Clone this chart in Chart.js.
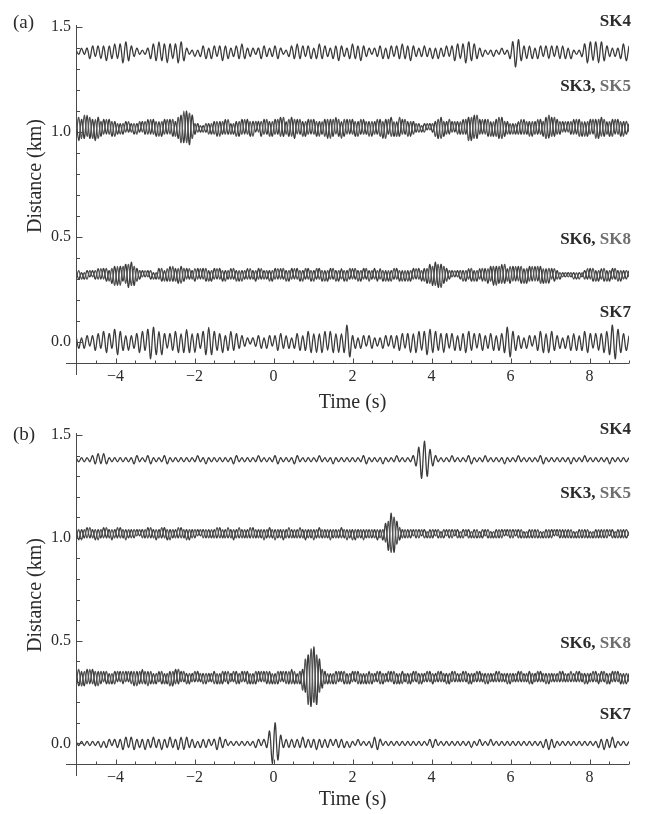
<!DOCTYPE html>
<html>
<head>
<meta charset="utf-8">
<title>Distance vs time</title>
<script src="https://cdn.jsdelivr.net/npm/chart.js@4.4.1/dist/chart.umd.min.js"></script>
<style>
  body { margin: 0; background: #fff; }
  #page { position: relative; width: 646px; height: 814px; overflow: hidden; font-family: "Liberation Serif", "Times New Roman", serif; color: #2b2b2b; }
  canvas { position: absolute; left: 0; }
  #chartA { top: 0; }
  #chartB { top: 400px; }
  .tag { position: absolute; left: 13px; font-size: 19px; line-height: 1; }
</style>
</head>
<body>
<div id="page">
  <canvas id="chartA" width="646" height="415"></canvas>
  <canvas id="chartB" width="646" height="414"></canvas>
  <div class="tag" style="top:12px">(a)</div>
  <div class="tag" style="top:424px">(b)</div>
</div>
<script>
// sample grid of the traces (s)
const tStart = -5;
const tStep = 0.07;

const xTicks = [-4, -2, 0, 2, 4, 6, 8];
const yTicks = [0.0, 0.5, 1.0, 1.5];

// trace baselines (km)
const baseSK4 = 1.38;
const baseSK35 = 1.02;
const baseSK68 = 0.32;
const baseSK7 = 0.0;

// trace amplitudes, units of 0.01 km
// (a)
const sk4A = [
  1,-1,2,-1,2,-3,3,-2,3,-3, 3,-4,3,-3,4,-3,4,-5,5,-4,
  3,-2,2,-1,1,-1,2,-3,4,-4, 5,-4,4,-5,4,-3,4,-5,5,-4,
  2,-1,1,-2,1,-2,3,-3,2,-3, 3,-2,3,-4,3,-3,2,-2,3,-3,
  4,-3,2,-2,2,-1,2,-3,3,-2, 2,-2,3,-3,2,-1,1,-2,3,-3,
  4,-3,3,-2,3,-3,2,-3,4,-3, 3,-2,2,-3,3,-4,3,-2,2,-3,
  4,-3,3,-4,3,-2,2,-1,2,-2, 3,-3,2,-3,3,-2,3,-3,4,-3,
  3,-4,3,-2,2,-2,3,-2,2,-3, 2,-3,2,-2,3,-2,3,-4,4,-3,
  4,-5,5,-4,4,-3,2,-2,1,-1, 1,-2,1,-1,2,-1,1,-3,5,-7,
  6,-4,3,-3,3,-3,2,-3,3,-2, 3,-3,3,-2,3,-3,3,-3,2,-3,
  1,-1,1,-2,4,-5,5,-4,5,-5, 5,-4,3,-2,2,-2,2,-3,4,-4,
  3
];
const sk3A = [
  5,-6,4,-5,6,-5,4,-6,5,-4, 4,-3,4,-4,3,-3,2,-3,3,-2,
  2,-3,2,-2,3,-3,4,-3,4,-4, 3,-4,4,-3,4,-4,3,-5,6,-7,
  8,-8,6,-3,2,-2,1,-2,2,-3, 3,-4,3,-3,4,-3,2,-3,3,-4,
  4,-3,4,-4,3,-2,3,-4,4,-3, 3,-4,4,-3,5,-4,3,-4,5,-5,
  4,-3,3,-4,4,-3,4,-4,3,-3, 4,-5,4,-4,5,-4,3,-4,4,-3,
  4,-4,3,-3,4,-3,3,-4,3,-3, 4,-5,4,-3,5,-4,3,-4,4,-3,
  3,-4,3,-2,2,-2,2,-1,2,-2, 3,-5,5,-4,3,-3,3,-2,3,-3,
  4,-3,5,-6,6,-5,4,-3,4,-4, 3,-4,4,-5,5,-4,3,-3,2,-3,
  3,-3,4,-3,3,-4,3,-3,4,-4, 5,-5,5,-4,4,-3,3,-2,3,-3,
  4,-3,4,-4,3,-4,4,-3,4,-5, 5,-4,3,-4,4,-3,4,-4,3,-3,
  2
];
const sk5A = [
  -4,5,-5,6,-4,5,-5,4,-5,3, -3,4,-3,3,-4,2,-3,2,-2,3,
  -2,2,-3,3,-2,3,-3,4,-3,3, -4,3,-3,4,-3,4,-4,5,-7,8,
  -7,7,-5,2,-2,1,-2,2,-3,2, -3,3,-4,3,-3,4,-3,2,-4,3,
  -3,4,-3,3,-4,3,-2,3,-3,4, -4,3,-3,4,-4,5,-3,4,-4,4,
  -3,4,-4,3,-3,4,-3,3,-4,3, -4,4,-5,4,-3,4,-5,4,-3,4,
  -3,3,-4,4,-3,3,-4,3,-3,4, -4,3,-5,4,-4,3,-4,5,-3,4,
  -4,3,-3,2,-2,1,-2,2,-1,2, -4,4,-5,3,-3,4,-2,3,-3,3,
  -3,4,-6,5,-5,6,-3,4,-3,4, -4,3,-4,5,-5,3,-3,2,-3,2,
  -3,4,-3,3,-4,3,-3,4,-3,3, -5,6,-4,5,-3,3,-2,3,-2,3,
  -3,4,-4,3,-4,3,-3,4,-5,4, -4,4,-3,3,-4,4,-3,3,-4,3,
  -2
];
const sk6A = [
  2,-2,1,-2,2,-1,2,-2,3,-2, 3,-3,2,-4,4,-5,4,-3,5,-6,
  6,-5,3,-2,2,-1,2,-2,1,-2, 3,-3,2,-3,4,-3,3,-4,4,-3,
  3,-2,2,-3,3,-2,3,-3,2,-3, 3,-2,3,-3,2,-2,3,-2,2,-3,
  2,-2,3,-2,2,-3,3,-2,2,-2, 2,-3,3,-2,3,-2,2,-3,3,-2,
  3,-3,2,-2,3,-3,2,-2,3,-3, 2,-3,3,-2,2,-3,3,-3,2,-2,
  3,-2,2,-3,3,-2,2,-2,3,-3, 3,-3,2,-3,2,-2,3,-3,2,-3,
  2,-3,3,-2,3,-3,3,-4,5,-5, 6,-6,5,-4,3,-2,2,-1,2,-2,
  2,-3,3,-3,2,-3,3,-3,3,-4, 4,-5,4,-4,5,-4,3,-4,4,-3,
  4,-4,3,-4,4,-3,4,-3,4,-4, 3,-4,3,-3,2,-2,1,-1,1,-1,
  1,-2,1,-1,2,-2,3,-3,2,-3, 3,-3,2,-3,3,-2,2,-3,2,-2,
  2
];
const sk8A = [
  -2,2,-2,1,-2,2,-1,2,-2,3, -2,3,-3,3,-5,4,-5,4,-4,5,
  -5,4,-3,2,-1,2,-1,2,-2,1, -2,3,-3,3,-3,4,-3,3,-4,3,
  -2,3,-2,3,-2,3,-2,3,-3,2, -2,3,-2,2,-3,2,-2,3,-3,2,
  -3,2,-2,3,-2,2,-2,3,-2,2, -3,2,-2,3,-2,3,-3,2,-2,3,
  -2,2,-3,3,-2,2,-3,3,-2,2, -3,2,-2,3,-3,2,-2,2,-3,3,
  -2,3,-3,2,-2,3,-3,2,-2,2, -2,2,-3,2,-3,3,-2,2,-3,2,
  -3,2,-2,3,-2,2,-3,3,-4,4, -5,5,-6,4,-3,2,-1,2,-1,2,
  -3,2,-2,3,-3,2,-2,3,-3,3, -3,4,-5,4,-4,5,-3,4,-3,4,
  -3,4,-4,3,-3,4,-3,4,-4,3, -4,3,-2,3,-2,1,-1,1,-1,1,
  -2,1,-2,1,-2,3,-2,3,-3,2, -2,3,-3,2,-2,3,-3,2,-2,2,
  -1
];
const sk7A = [
  3,-3,2,-3,3,-2,3,-4,4,-3, 5,-5,4,-3,6,-6,5,-4,3,-4,
  3,-3,4,-5,5,-4,6,-8,7,-6, 5,-6,4,-3,4,-4,5,-5,4,-5,
  6,-5,4,-5,4,-3,5,-6,7,-6, 5,-4,4,-5,3,-4,5,-4,4,-3,
  3,-2,2,-1,2,-2,3,-3,2,-3, 3,-2,3,-4,4,-3,3,-3,2,-3,
  4,-4,3,-4,5,-5,4,-5,4,-5, 5,-4,5,-5,4,-5,4,-5,8,-7,
  3,-3,2,-3,3,-2,3,-3,2,-2, 2,-3,3,-2,3,-3,3,-4,4,-3,
  4,-5,4,-5,5,-4,5,-6,6,-5, 5,-4,4,-5,4,-3,4,-4,3,-4,
  4,-5,5,-4,4,-3,4,-4,3,-3, 4,-4,3,-4,4,-5,7,-7,5,-4,
  3,-3,2,-3,3,-2,3,-4,5,-5, 4,-5,5,-4,3,-3,2,-3,3,-4,
  4,-4,3,-4,5,-5,4,-3,4,-4, 4,-5,5,-6,8,-8,6,-5,4,-4,
  3
];

// (b)
const sk4B = [
  1,-1,1,-1,1,-1,2,-2,3,-2, 3,-2,1,-1,1,-1,1,-1,1,-1,
  1,-2,2,-1,1,-1,2,-2,1,-1, 1,-1,2,-2,1,-1,1,-1,1,-1,
  1,-1,1,-1,2,-1,1,-2,1,-1, 1,-1,1,-1,1,-1,1,-2,2,-1,
  1,-1,1,-1,1,-1,2,-1,1,-1, 1,-1,2,-2,1,-1,1,-1,1,-2,
  2,-1,1,-1,1,-1,1,-1,2,-1, 1,-1,1,-2,1,-1,1,-1,1,-1,
  1,-1,1,-1,2,-2,1,-1,1,-1, 1,-2,1,-1,1,-1,2,-1,1,-1,
  1,-1,2,-3,6,-9,9,-8,5,-3, 2,-1,1,-1,1,-1,2,-1,1,-1,
  1,-1,2,-2,1,-1,1,-1,2,-1, 1,-1,1,-1,1,-2,1,-1,1,-1,
  2,-1,1,-1,1,-1,1,-1,2,-2, 1,-1,1,-1,1,-1,1,-1,1,-2,
  1,-1,1,-1,2,-1,1,-1,1,-1, 1,-1,1,-2,1,-1,1,-1,1,-1,
  1
];
const sk3B = [
  2,-3,2,-2,3,-2,2,-3,2,-2, 3,-2,2,-3,2,-2,3,-2,2,-2,
  2,-2,2,-1,2,-2,3,-2,2,-3, 2,-2,3,-3,2,-2,2,-2,3,-2,
  2,-3,2,-2,2,-1,2,-2,2,-2, 2,-2,3,-2,2,-2,2,-3,2,-2,
  2,-2,2,-2,3,-2,2,-2,2,-2, 3,-2,2,-2,2,-3,2,-2,2,-2,
  2,-2,2,-3,2,-2,2,-2,3,-2, 2,-2,2,-2,2,-2,3,-2,2,-2,
  2,-3,2,-2,2,-2,2,-2,2,-3, 2,-3,5,-8,10,-9,6,-3,2,-2,
  2,-2,2,-2,2,-1,2,-2,2,-2, 2,-2,1,-2,2,-2,2,-1,2,-2,
  2,-1,2,-2,2,-2,1,-2,2,-2, 1,-2,2,-2,2,-1,2,-2,2,-1,
  2,-2,1,-2,2,-2,2,-2,1,-2, 2,-2,2,-1,2,-2,2,-2,2,-2,
  1,-2,2,-2,2,-2,1,-2,2,-2, 2,-2,2,-1,2,-2,2,-2,2,-2,
  1
];
const sk5B = [
  -2,2,-3,2,-2,3,-2,2,-3,2, -2,3,-2,2,-2,3,-2,2,-3,2,
  -2,2,-1,2,-2,2,-2,3,-2,2, -2,3,-2,2,-3,2,-2,3,-2,2,
  -3,2,-2,2,-1,2,-2,2,-2,2, -2,3,-2,2,-2,3,-2,2,-2,3,
  -2,2,-2,3,-2,2,-2,2,-3,2, -2,2,-3,2,-2,2,-2,3,-2,2,
  -2,3,-2,2,-2,2,-3,2,-2,2, -2,2,-3,2,-2,2,-2,2,-3,2,
  -3,2,-2,2,-3,2,-2,2,-2,2, -2,2,-4,6,-9,8,-5,3,-2,2,
  -2,2,-1,2,-2,2,-2,1,-2,2, -1,2,-2,2,-1,2,-2,2,-2,1,
  -2,2,-2,1,-2,2,-2,2,-1,2, -2,1,-2,2,-2,2,-1,2,-2,2,
  -2,2,-2,1,-2,2,-2,2,-2,1, -2,2,-2,2,-1,2,-2,2,-2,2,
  -2,1,-2,2,-2,2,-2,1,-2,2, -2,2,-2,2,-2,1,-2,2,-2,2,
  -1
];
const sk6B = [
  4,-4,3,-4,4,-3,4,-4,3,-3, 3,-3,2,-3,3,-2,3,-3,3,-2,
  3,-4,3,-3,4,-3,3,-3,2,-3, 3,-3,2,-3,3,-4,4,-3,3,-2,
  2,-3,2,-2,3,-2,2,-3,2,-2, 3,-3,2,-3,3,-3,2,-2,3,-3,
  3,-2,3,-3,2,-3,3,-2,3,-3, 3,-3,2,-3,3,-2,3,-3,4,-3,
  2,-3,4,-7,11,-14,15,-13,9,-5, 3,-3,2,-3,3,-2,3,-3,2,-3,
  3,-2,3,-3,2,-3,3,-3,2,-2, 3,-3,2,-2,3,-3,2,-3,3,-2,
  2,-3,3,-2,2,-3,2,-2,3,-3, 2,-2,3,-2,2,-3,3,-2,2,-2,
  3,-2,2,-3,2,-2,3,-2,2,-3, 2,-2,3,-2,2,-2,2,-3,2,-2,
  3,-2,2,-2,3,-3,2,-2,3,-2, 2,-3,2,-2,2,-2,3,-2,2,-2,
  2,-2,3,-2,2,-3,2,-2,3,-3, 3,-2,2,-3,3,-2,3,-3,2,-3,
  2
];
const sk8B = [
  -3,4,-4,3,-3,4,-3,3,-4,3, -2,3,-3,2,-3,3,-2,3,-2,3,
  -3,3,-4,3,-3,3,-4,3,-3,2, -2,3,-3,2,-4,3,-3,4,-2,3,
  -3,2,-2,3,-2,2,-3,2,-2,2, -3,2,-3,3,-2,3,-2,3,-3,2,
  -2,3,-3,2,-3,3,-2,3,-2,3, -3,2,-3,3,-2,3,-3,3,-3,3,
  -3,3,-6,9,-13,14,-12,11,-7,4, -3,2,-3,2,-3,3,-2,3,-3,2,
  -2,3,-3,2,-3,2,-3,2,-2,3, -3,2,-2,3,-2,3,-3,2,-3,2,
  -3,2,-2,3,-3,2,-2,3,-2,2, -2,3,-2,2,-3,2,-2,3,-2,2,
  -2,3,-3,2,-2,3,-2,2,-3,2, -2,2,-2,3,-2,2,-3,2,-2,2,
  -2,3,-2,2,-3,2,-2,3,-2,2, -3,2,-2,2,-2,3,-2,2,-2,3,
  -2,3,-2,2,-3,2,-2,3,-2,2, -2,3,-3,2,-2,3,-2,2,-3,2,
  -2
];
const sk7B = [
  1,-1,1,-1,1,-1,1,-1,1,-2, 1,-2,2,-1,2,-2,2,-3,3,-2,
  3,-3,2,-2,2,-3,2,-2,3,-2, 2,-3,2,-2,3,-2,2,-3,3,-3,
  3,-2,2,-2,1,-2,2,-2,2,-1, 2,-3,3,-2,2,-1,1,-1,1,-1,
  1,-1,1,-1,1,-2,2,-1,2,-2, 6,-10,10,-8,4,-2,2,-2,2,-2,
  2,-2,3,-2,2,-2,2,-3,2,-2, 2,-2,2,-1,2,-2,2,-2,1,-2,
  1,-1,2,-1,1,-1,1,-2,3,-3, 2,-1,1,-1,1,-1,1,-1,1,-1,
  1,-1,1,-1,1,-1,1,-1,2,-2, 2,-1,1,-1,1,-1,1,-1,1,-1,
  1,-1,1,-2,1,-1,2,-1,1,-1, 2,-1,1,-1,1,-1,1,-1,1,-1,
  1,-1,1,-1,1,-1,1,-1,1,-2, 2,-3,2,-2,1,-1,1,-1,1,-1,
  1,-1,1,-1,1,-1,1,-1,1,-2, 2,-3,2,-2,3,-2,1,-1,1,-1,
  1
];

const traceDark = '#3a3a3a';
const traceGrey = '#555555';
const textDark = '#2b2b2b';
const textGrey = '#6e6e6e';

Chart.defaults.font.family = '"Liberation Serif", "Times New Roman", serif';
Chart.defaults.color = textDark;

// Mathematica-like axes: inward ticks, crossing axis lines, trace labels
const frame = {
  id: 'frame',
  afterDraw(chart, args, opts) {
    const { ctx, chartArea: a, scales: { x, y } } = chart;
    const x0 = Math.round(a.left) + 0.5;
    const y0 = Math.round(a.bottom) + 0.5;
    ctx.save();
    ctx.strokeStyle = '#4a4a4a';
    ctx.lineWidth = 1;
    ctx.beginPath();
    ctx.moveTo(x0, a.top);
    ctx.lineTo(x0, a.bottom + 12);
    ctx.moveTo(a.left - 10, y0);
    ctx.lineTo(a.right, y0);
    for (let k = -9; k <= 18; k++) {
      const px = Math.round(x.getPixelForValue(k / 2)) + 0.5;
      const len = k % 4 === 0 ? 5 : 3;
      ctx.moveTo(px, y0);
      ctx.lineTo(px, y0 - len);
    }
    for (let k = 0; k <= 15; k++) {
      const py = Math.round(y.getPixelForValue(k / 10)) + 0.5;
      const len = k % 5 === 0 ? 6 : 3.5;
      ctx.moveTo(x0, py);
      ctx.lineTo(x0 + len, py);
    }
    ctx.stroke();

    // y axis title
    ctx.save();
    ctx.translate(opts.yTitle.x, opts.yTitle.y);
    ctx.rotate(-Math.PI / 2);
    ctx.font = '20px "Liberation Serif", serif';
    ctx.fillStyle = textDark;
    ctx.textAlign = 'center';
    ctx.textBaseline = 'middle';
    ctx.fillText('Distance (km)', 0, 0);
    ctx.restore();

    // trace names, right aligned at the end of the axis
    ctx.font = 'bold 17px "Liberation Serif", serif';
    ctx.textBaseline = 'middle';
    ctx.textAlign = 'left';
    opts.names.forEach(n => {
      const total = n.parts.reduce((s, p) => s + ctx.measureText(p[0]).width, 0);
      let px = a.right + 2 - total;
      const py = y.getPixelForValue(n.y);
      n.parts.forEach(p => {
        ctx.fillStyle = p[1];
        ctx.fillText(p[0], px, py);
        px += ctx.measureText(p[0]).width;
      });
    });
    ctx.restore();
  }
};

function trace(values, base, color) {
  return {
    data: values.map((v, i) => ({ x: tStart + i * tStep, y: base + v / 100 })),
    borderColor: color,
    borderWidth: 1.3,
    pointRadius: 0,
    tension: 0.35,
    fill: false
  };
}

const names = [
  { parts: [['SK4', textDark]], y: 1.525 },
  { parts: [['SK3, ', textDark], ['SK5', textGrey]], y: 1.215 },
  { parts: [['SK6, ', textDark], ['SK8', textGrey]], y: 0.487 },
  { parts: [['SK7', textDark]], y: 0.138 }
];

function buildChart(id, datasets, lay) {
  return new Chart(document.getElementById(id), {
    type: 'line',
    data: { datasets: datasets },
    options: {
      responsive: false,
      animation: false,
      devicePixelRatio: 1,
      layout: { padding: { left: 0, right: 17, top: lay.top, bottom: 0 } },
      plugins: {
        legend: { display: false },
        tooltip: { enabled: false },
        frame: { yTitle: lay.yTitle, names: names }
      },
      scales: {
        x: {
          type: 'linear',
          min: -5,
          max: 9,
          afterBuildTicks: s => { s.ticks = xTicks.map(v => ({ value: v })); },
          afterFit: s => { s.height = lay.xHeight; },
          grid: { display: false, drawTicks: false },
          border: { display: false },
          ticks: {
            font: { size: 16 },
            padding: 4,
            maxRotation: 0,
            autoSkip: false,
            callback: v => v < 0 ? '\u2212' + Math.abs(v) : String(v)
          },
          title: { display: true, text: 'Time (s)', font: { size: 20 }, padding: { top: 0, bottom: lay.titlePad } }
        },
        y: {
          type: 'linear',
          min: -0.1,
          max: 1.51,
          afterBuildTicks: s => { s.ticks = yTicks.map(v => ({ value: v })); },
          afterFit: s => { s.width = 76; },
          grid: { display: false, drawTicks: false },
          border: { display: false },
          ticks: { font: { size: 16 }, padding: 5, callback: v => Number(v).toFixed(1) }
        }
      }
    },
    plugins: [frame]
  });
}

buildChart('chartA', [
  trace(sk4A, baseSK4, traceDark),
  trace(sk5A, baseSK35, traceGrey),
  trace(sk3A, baseSK35, traceDark),
  trace(sk8A, baseSK68, traceGrey),
  trace(sk6A, baseSK68, traceDark),
  trace(sk7A, baseSK7, traceDark)
], { top: 25, xHeight: 52, titlePad: 0, yTitle: { x: 36, y: 176 } });

buildChart('chartB', [
  trace(sk4B, baseSK4, traceDark),
  trace(sk5B, baseSK35, traceGrey),
  trace(sk3B, baseSK35, traceDark),
  trace(sk8B, baseSK68, traceGrey),
  trace(sk6B, baseSK68, traceDark),
  trace(sk7B, baseSK7, traceDark)
], { top: 33, xHeight: 50, titlePad: 2, yTitle: { x: 36, y: 195 } });
</script>
</body>
</html>
